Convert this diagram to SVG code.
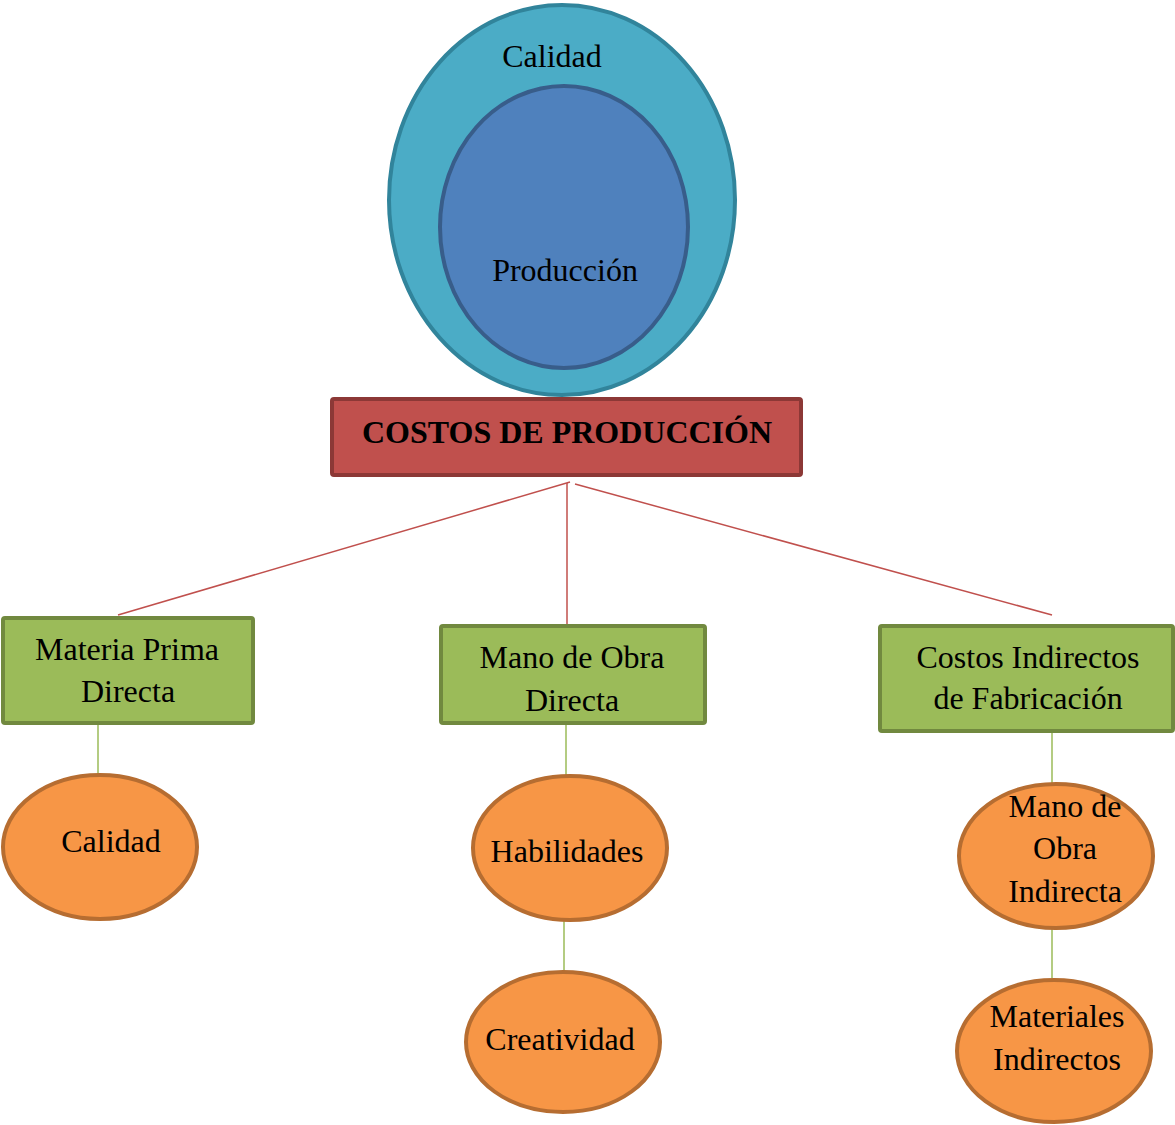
<svg xmlns="http://www.w3.org/2000/svg" width="1175" height="1125" viewBox="0 0 1175 1125">
  <style>
    text { font-family: "Liberation Serif", "Times New Roman", serif; font-size: 32px; fill: #000; text-anchor: middle; }
    .title { font-weight: bold; font-size: 32px; }
    .outer { fill: #4bacc6; stroke: #31849b; stroke-width: 4; }
    .inner { fill: #4f81bd; stroke: #385d8a; stroke-width: 4; }
    .root { fill: #c0504d; stroke: #8c3836; stroke-width: 4; }
    .box { fill: #9bbb59; stroke: #71893f; stroke-width: 4; }
    .oval { fill: #f79646; stroke: #b66d31; stroke-width: 4; }
    .red { stroke: #c0504d; stroke-width: 1.5; fill: none; }
    .green { stroke: #9bbb59; stroke-width: 1.5; fill: none; }
  </style>

  <!-- nested circles: Calidad around Producción -->
  <g id="calidad-produccion">
    <ellipse class="outer" cx="562" cy="200" rx="173" ry="195"/>
    <text x="552" y="67">Calidad</text>
    <ellipse class="inner" cx="564" cy="227" rx="124" ry="141"/>
    <text x="565" y="281">Producción</text>
  </g>

  <!-- connectors -->
  <g id="connectors">
    <line class="red" x1="570" y1="482" x2="118" y2="615"/>
    <line class="red" x1="567" y1="483" x2="567" y2="625"/>
    <line class="red" x1="575" y1="484" x2="1052" y2="615"/>
    <line class="green" x1="98" y1="724" x2="98" y2="774"/>
    <line class="green" x1="566" y1="724" x2="566" y2="776"/>
    <line class="green" x1="564" y1="920" x2="564" y2="972"/>
    <line class="green" x1="1052" y1="732" x2="1052" y2="784"/>
    <line class="green" x1="1052" y1="928" x2="1052" y2="978"/>
  </g>

  <g id="costos-produccion">
    <rect class="root" x="332" y="399" width="469" height="76" rx="2"/>
    <text class="title" x="567" y="443">COSTOS DE PRODUCCIÓN</text>
  </g>

  <g id="materia-prima">
    <rect class="box" x="3" y="618" width="250" height="105" rx="2"/>
    <text x="127" y="660">Materia Prima</text>
    <text x="128" y="702">Directa</text>
  </g>

  <g id="mano-obra-directa">
    <rect class="box" x="441" y="626" width="264" height="97" rx="2"/>
    <text x="572" y="668">Mano de Obra</text>
    <text x="572" y="711">Directa</text>
  </g>

  <g id="costos-indirectos">
    <rect class="box" x="880" y="626" width="293" height="105" rx="2"/>
    <text x="1028" y="668">Costos Indirectos</text>
    <text x="1028" y="709">de Fabricación</text>
  </g>

  <g id="calidad">
    <ellipse class="oval" cx="100" cy="847" rx="97" ry="72"/>
    <text x="111" y="852">Calidad</text>
  </g>

  <g id="habilidades">
    <ellipse class="oval" cx="570" cy="848" rx="97" ry="72"/>
    <text x="567" y="862">Habilidades</text>
  </g>

  <g id="creatividad">
    <ellipse class="oval" cx="563" cy="1042" rx="97" ry="70"/>
    <text x="560" y="1050">Creatividad</text>
  </g>

  <g id="mano-obra-indirecta">
    <ellipse class="oval" cx="1056" cy="856" rx="97" ry="72"/>
    <text x="1065" y="817">Mano de</text>
    <text x="1065" y="859">Obra</text>
    <text x="1065" y="902">Indirecta</text>
  </g>

  <g id="materiales-indirectos">
    <ellipse class="oval" cx="1054" cy="1051" rx="97" ry="71"/>
    <text x="1057" y="1027">Materiales</text>
    <text x="1057" y="1070">Indirectos</text>
  </g>
</svg>
